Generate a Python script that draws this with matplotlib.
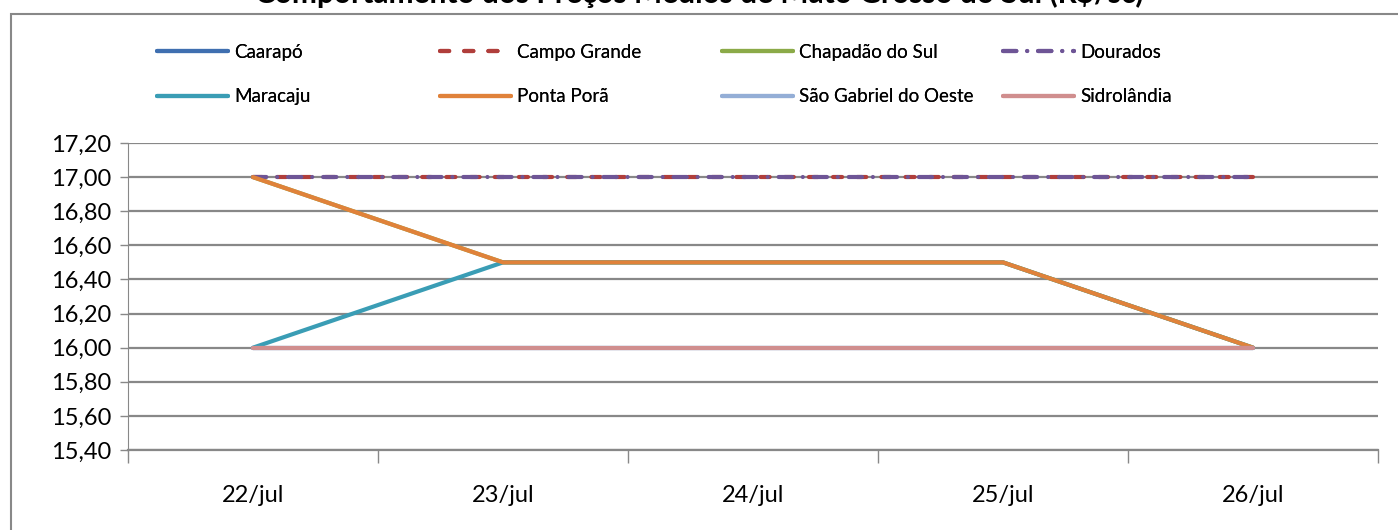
import matplotlib
matplotlib.use("Agg")
import matplotlib.pyplot as plt
from matplotlib.patches import Rectangle

# dados
datas = ["22/jul", "23/jul", "24/jul", "25/jul", "26/jul"]
caarapo = [16.00, 16.00, 16.00, 16.00, 16.00]
campo_grande = [17.00, 17.00, 17.00, 17.00, 17.00]
chapadao = [17.00, 16.50, 16.50, 16.50, 16.00]
dourados = [17.00, 17.00, 17.00, 17.00, 17.00]
maracaju = [16.00, 16.50, 16.50, 16.50, 16.00]
ponta_pora = [17.00, 16.50, 16.50, 16.50, 16.00]
sao_gabriel = [16.00, 16.00, 16.00, 16.00, 16.00]
sidrolandia = [16.00, 16.00, 16.00, 16.00, 16.00]

series = [
    ("Caarapó", caarapo, "#3F6FB0", "-"),
    ("Campo Grande", campo_grande, "#B03E3B", (0, (2.2, 3.6))),
    ("Chapadão do Sul", chapadao, "#8BAA48", "-"),
    ("Dourados", dourados, "#6E5596", (0, (3.2, 2.6, 0.01, 2.6))),
    ("Maracaju", maracaju, "#3A9DB5", "-"),
    ("Ponta Porã", ponta_pora, "#E0823A", "-"),
    ("São Gabriel do Oeste", sao_gabriel, "#94AED6", "-"),
    ("Sidrolândia", sidrolandia, "#D08E8E", "-"),
]

fonte = "Lato"
W, H = 1398, 530
fig = plt.figure(figsize=(W / 100, H / 100), dpi=100)
ax = fig.add_axes([128 / W, 1 - 450 / H, 1250 / W, 307 / H])

x = list(range(len(datas)))
handles = []
for nome, vals, cor, estilo in series:
    h, = ax.plot(x, vals, color=cor, lw=3.0, ls=estilo, label=nome,
                 solid_capstyle="round", dash_capstyle="round", zorder=3)
    handles.append(h)

ax.set_xlim(-0.5, len(datas) - 0.5)
ax.set_ylim(15.4, 17.2)
yt = [15.4 + 0.2 * i for i in range(10)]
ax.set_yticks(yt)
ax.set_yticklabels([f"{v:.2f}".replace(".", ",") for v in yt],
                   fontsize=17, fontfamily=fonte)
ax.set_xticks(x)
ax.set_xticklabels(datas, fontsize=17, fontfamily=fonte)
ax.set_xticks([i - 0.5 for i in range(len(datas) + 1)], minor=True)
ax.tick_params(axis="x", which="major", length=0, pad=25)
ax.tick_params(axis="x", which="minor", length=9, color="#888888", width=1)
ax.tick_params(axis="y", length=6, color="#888888", width=1, pad=6)
ax.grid(axis="y", color="#888888", lw=1.6, zorder=0)
for s in ["top", "right"]:
    ax.spines[s].set_visible(False)
ax.spines["left"].set_color("#888888")
ax.spines["bottom"].set_color("#888888")
ax.spines["bottom"].set_linewidth(1.6)

# legenda em 4 colunas
col_x = [157, 440, 722, 1003]
for c in range(4):
    leg = fig.legend(handles=[handles[c], handles[c + 4]], loc="upper left",
                     bbox_to_anchor=(col_x[c] / W, 1 - 44 / H), frameon=False,
                     prop={"family": fonte, "size": 13.5}, handlelength=3.8,
                     handletextpad=0.3, labelspacing=1.45, borderaxespad=0,
                     borderpad=0)
    fig.add_artist(leg)

fig.text(0.5, 1 - 3 / H, "Comportamento dos Preços Médios de Mato Grosso do Sul (R$/sc)",
         ha="center", va="baseline", fontsize=21.5, fontweight="bold", fontfamily=fonte)

fig.add_artist(Rectangle((11 / W, -0.1), 1.2, 1 - 14 / H + 0.1,
                         transform=fig.transFigure, fill=False,
                         edgecolor="#888888", lw=1.5))

fig.savefig("out.png", dpi=100)
